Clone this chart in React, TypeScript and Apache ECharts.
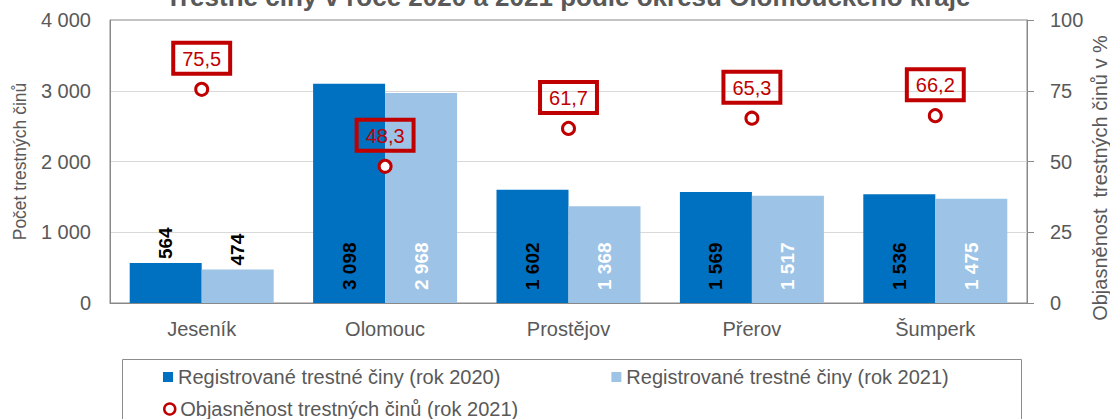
import React, { useEffect, useRef } from 'react';
import * as echarts from 'echarts';

const categories = ['Jeseník', 'Olomouc', 'Prostějov', 'Přerov', 'Šumperk'];
const registered2020 = [564, 3098, 1602, 1569, 1536];
const registered2021 = [474, 2968, 1368, 1517, 1475];
const clearance2021 = [75.5, 48.3, 61.7, 65.3, 66.2];
const leftTicks = [0, 1000, 2000, 3000, 4000];
const rightTicks = [0, 25, 50, 75, 100];

const titleText = 'Trestné činy v roce 2020 a 2021 podle okresů Olomouckého kraje';
const name2020 = 'Registrované trestné činy (rok 2020)';
const name2021 = 'Registrované trestné činy (rok 2021)';
const nameRate = 'Objasněnost trestných činů (rok 2021)';
const leftAxisName = 'Počet trestných činů';
const rightAxisName = 'Objasněnost  trestných činů v %';

const FONT = "'Liberation Sans', Arial, sans-serif";
const GREY_TEXT = '#595959';
const AXIS_GREY = '#898989';
const DARK_BLUE = '#0070C0';
const LIGHT_BLUE = '#9DC3E6';
const RED = '#C00000';

const fmt = (v: number) => String(v).replace(/\B(?=(\d{3})+(?!\d))/g, ' ');
const fmtDec = (v: number) => v.toFixed(1).replace('.', ',');

const barLabel = (light: boolean) => ({
  show: true,
  rotate: 90,
  position: 'insideBottom',
  distance: 13,
  align: 'left',
  verticalAlign: 'middle',
  fontFamily: FONT,
  fontSize: 19,
  fontWeight: 'bold',
  color: light ? '#ffffff' : '#000000',
  formatter: (p: any) => fmt(p.value),
});

const barData = (values: number[]) =>
  values.map((v) =>
    v < 1000
      ? { value: v, label: { position: 'top', distance: 4, color: '#000000' } }
      : { value: v }
  );

export default function App() {
  const ref = useRef<HTMLDivElement>(null);
  useEffect(() => {
    document.body.style.margin = '0';
    const chart = echarts.init(ref.current!, null, { renderer: 'svg' });
    const option: any = {
      animation: false,
      textStyle: { fontFamily: FONT },
      grid: {
        left: 110,
        right: 83,
        top: 20,
        bottom: 116,
        show: true,
        borderColor: AXIS_GREY,
        borderWidth: 1,
        backgroundColor: 'transparent',
      },
      graphic: [
        {
          type: 'text',
          x: 568,
          y: -3,
          style: {
            text: titleText,
            fill: GREY_TEXT,
            font: `bold 26px ${FONT}`,
            textAlign: 'center',
            textVerticalAlign: 'middle',
          },
        },
        {
          type: 'text',
          x: 1100,
          y: 178,
          rotation: Math.PI / 2,
          style: {
            text: rightAxisName,
            fill: GREY_TEXT,
            font: `20px ${FONT}`,
            textAlign: 'center',
            textVerticalAlign: 'middle',
          },
        },
        {
          type: 'rect',
          shape: { x: 122.5, y: 359.5, width: 899, height: 90 },
          style: { fill: 'none', stroke: '#8c8c8c', lineWidth: 1 },
          silent: true,
        },
      ],
      legend: [
        {
          data: [name2020, name2021],
          left: 163,
          top: 367,
          padding: 0,
          itemGap: 111,
          itemWidth: 10,
          itemHeight: 10,
          icon: 'rect',
          textStyle: { color: GREY_TEXT, fontSize: 20, fontFamily: FONT, lineHeight: 20 },
          selectedMode: false,
        },
        {
          data: [
            {
              name: nameRate,
              icon: 'circle',
              itemStyle: { color: '#ffffff', borderColor: RED, borderWidth: 2.5 },
            },
          ],
          left: 163,
          top: 399,
          padding: 0,
          itemWidth: 11,
          itemHeight: 11,
          textStyle: { color: GREY_TEXT, fontSize: 20, fontFamily: FONT, lineHeight: 20 },
          selectedMode: false,
        },
      ],
      xAxis: {
        type: 'category',
        data: categories,
        axisLine: { show: true, lineStyle: { color: AXIS_GREY, width: 1 } },
        axisTick: { show: false },
        axisLabel: { color: GREY_TEXT, fontSize: 20, fontFamily: FONT, margin: 16 },
      },
      yAxis: [
        {
          type: 'value',
          min: leftTicks[0],
          max: leftTicks[leftTicks.length - 1],
          interval: leftTicks[1] - leftTicks[0],
          name: leftAxisName,
          nameLocation: 'middle',
          nameRotate: 90,
          nameGap: 81,
          nameTextStyle: { color: GREY_TEXT, fontSize: 17.5, fontFamily: FONT },
          axisLine: { show: true, lineStyle: { color: AXIS_GREY, width: 1 } },
          axisTick: { show: false },
          axisLabel: {
            color: GREY_TEXT,
            fontSize: 20,
            fontFamily: FONT,
            margin: 19,
            formatter: (v: number) => fmt(v),
          },
          splitLine: {
            show: true,
            showMinLine: false,
            showMaxLine: false,
            lineStyle: { color: '#D9D9D9', width: 1 },
          },
        },
        {
          type: 'value',
          position: 'right',
          min: rightTicks[0],
          max: rightTicks[rightTicks.length - 1],
          interval: rightTicks[1] - rightTicks[0],
          axisLine: { show: true, lineStyle: { color: AXIS_GREY, width: 1 } },
          axisTick: { show: true, length: 7, inside: false, lineStyle: { color: AXIS_GREY } },
          axisLabel: { color: GREY_TEXT, fontSize: 20, fontFamily: FONT, margin: 23 },
          splitLine: { show: false },
        },
      ],
      series: [
        {
          name: name2020,
          type: 'bar',
          data: barData(registered2020),
          barWidth: 72,
          barGap: '0%',
          itemStyle: { color: DARK_BLUE },
          label: barLabel(false),
        },
        {
          name: name2021,
          type: 'bar',
          data: barData(registered2021),
          barWidth: 72,
          barGap: '0%',
          itemStyle: { color: LIGHT_BLUE },
          label: barLabel(true),
        },
        {
          name: nameRate,
          type: 'scatter',
          yAxisIndex: 1,
          data: clearance2021,
          symbol: 'circle',
          symbolSize: 12,
          itemStyle: { color: '#ffffff', borderColor: RED, borderWidth: 3, opacity: 1 },
          z: 5,
          label: {
            show: true,
            position: 'top',
            distance: 8,
            color: RED,
            fontSize: 20,
            fontFamily: FONT,
            lineHeight: 22,
            padding: [5, 9, 4, 9],
            borderColor: RED,
            borderWidth: 2,
            backgroundColor: 'transparent',
            formatter: (p: any) => fmtDec(p.value),
          },
        },
      ],
    };
    chart.setOption(option);
    return () => chart.dispose();
  }, []);
  return <div ref={ref} style={{ width: 1110, height: 419 }} />;
}
